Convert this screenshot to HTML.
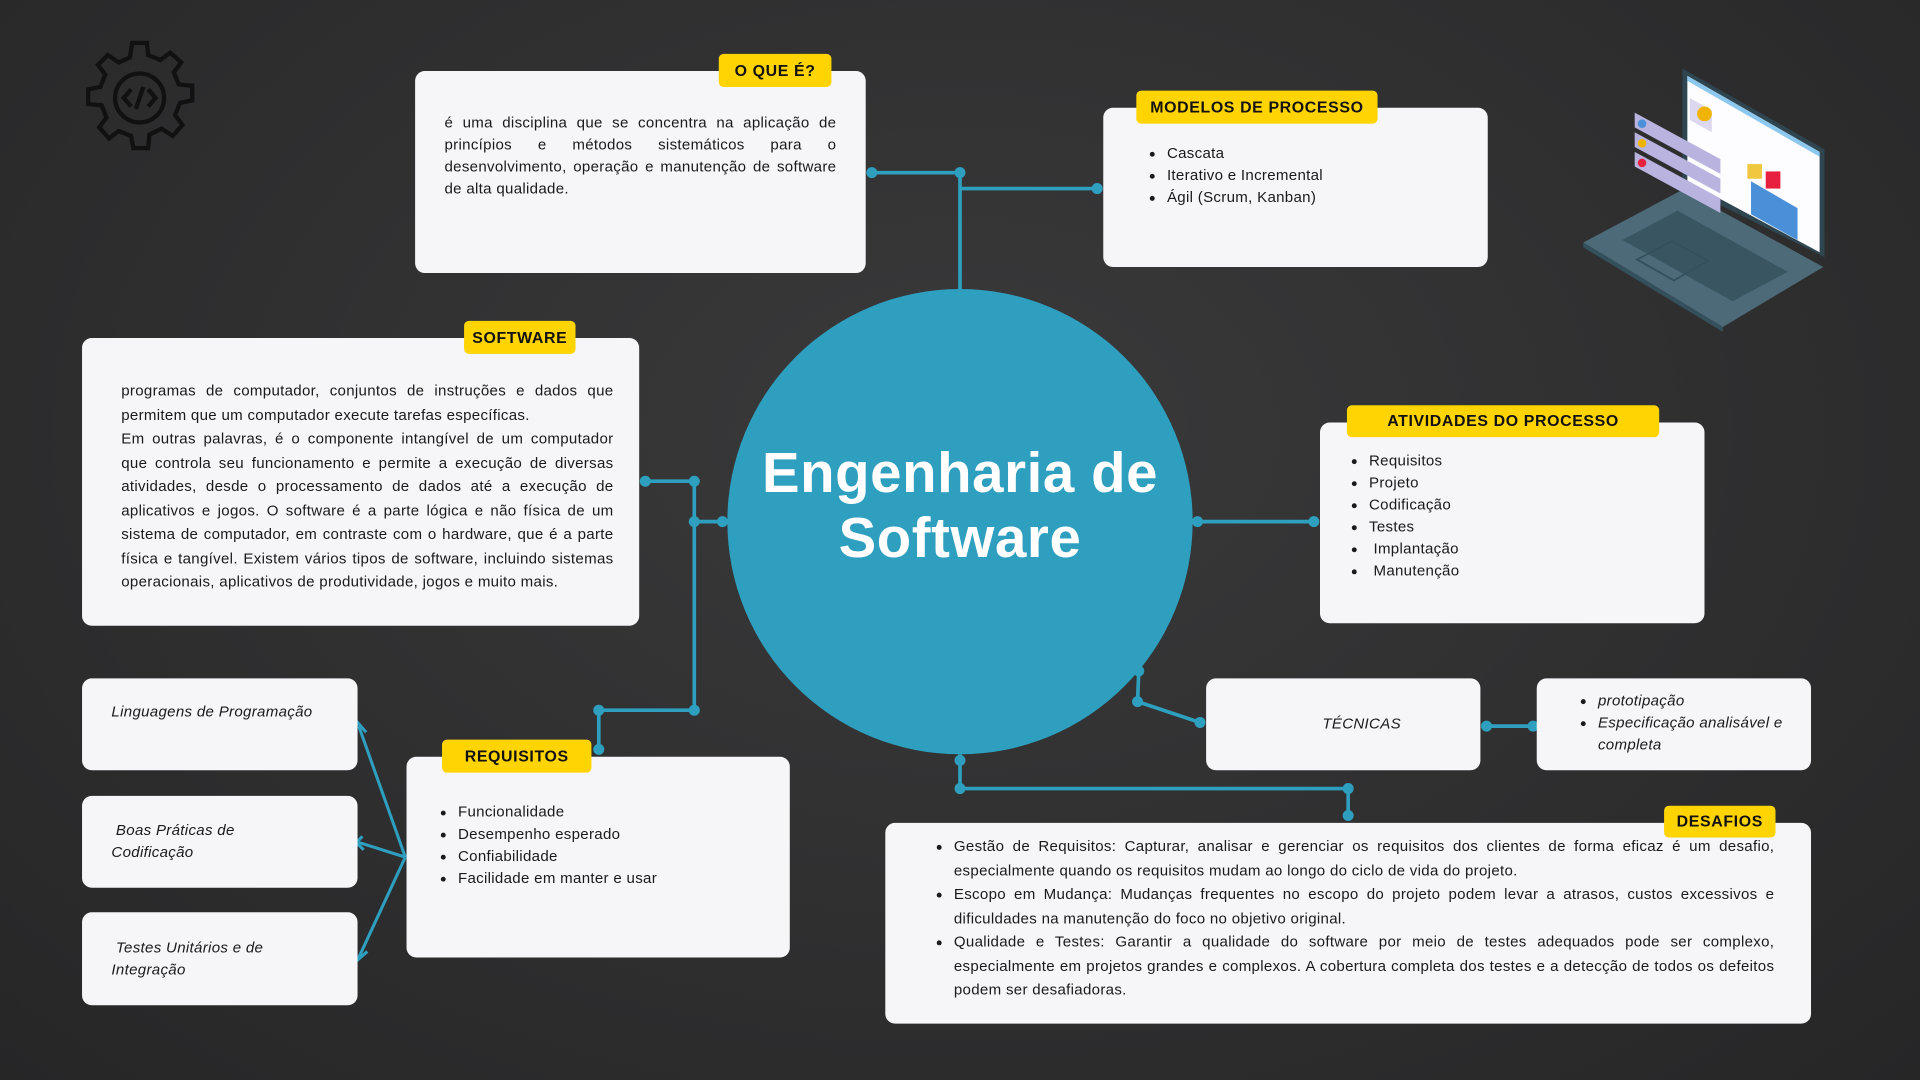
<!DOCTYPE html>
<html><head><meta charset="utf-8">
<style>
html,body{margin:0;padding:0;width:1920px;height:1080px;overflow:hidden;background:#2f2f30;}
#w{position:absolute;left:0;top:0;width:1568px;height:882px;transform:scale(1.22449);transform-origin:0 0;
background:radial-gradient(ellipse at 50% 40%,#3a3a3b 0%,#2f2f30 55%,#262627 100%);font-family:"Liberation Sans",sans-serif;}
.box{position:absolute;background:#f6f5f8;border-radius:8px;box-sizing:border-box;color:#1a1a1a;font-size:12.3px;letter-spacing:0.25px;}
.lab{position:absolute;background:#ffd400;border-radius:4px;font-weight:bold;font-size:13px;letter-spacing:.5px;color:#111;text-align:center;box-sizing:border-box;}
.just{text-align:justify;}
ul{margin:0;padding-left:16px;}
li{line-height:18px;}
.it{font-style:italic;}
</style></head><body><div id="w">
<svg width="1568" height="882" style="position:absolute;left:0;top:0">
<g transform="translate(114,81)" fill="none" stroke="#111" stroke-width="3.5">
<path d="M-6,-46 L6,-46 L7,-36 L17,-32 L25,-38 L34,-30 L28,-22 L32,-12 L43,-11 L43,1 L33,3 L29,13 L35,21 L27,30 L18,24 L8,29 L7,40 L-5,40 L-7,30 L-17,26 L-25,32 L-33,23 L-27,15 L-31,5 L-42,4 L-42,-8 L-32,-10 L-28,-20 L-34,-28 L-26,-36 L-17,-30 L-8,-34 Z"/>
<circle cx="0" cy="-1" r="20"/>
<path d="M-7,-8 L-13,-1 L-7,6 M7,-8 L13,-1 L7,6 M3,-10 L-3,8"/>
</g>
<polygon points="1293,198 1374,155 1489,218 1407,267" fill="#4d6a78"/>
<polygon points="1293,198 1407,267 1407,271 1293,202" fill="#34505c"/>
<polygon points="1325,196 1370,172 1460,222 1415,246" fill="#3a5562"/>
<polygon points="1374,56 1490,122 1490,210 1374,152" fill="#2f4550"/>
<polygon points="1378,62 1486,124 1486,206 1378,148" fill="#fdfdff"/>
<polygon points="1378,62 1486,124 1486,128 1378,66" fill="#8cc8ee"/>
<polygon points="1380,80 1398,90 1398,108 1380,98" fill="#dcd8f0"/>
<circle cx="1392" cy="93" r="6" fill="#f0b400"/>
<rect x="1427" y="134" width="12" height="12" fill="#f0c840"/>
<rect x="1442" y="140" width="12" height="14" fill="#e82040"/>
<polygon points="1430,148 1468,170 1468,196 1430,175" fill="#4a90d9"/>
<polygon points="1335,92 1405,130 1405,142 1335,104" fill="#b9b3e0"/>
<polygon points="1335,108 1405,146 1405,158 1335,120" fill="#b9b3e0"/>
<polygon points="1335,124 1405,162 1405,174 1335,136" fill="#b9b3e0"/>
<circle cx="1341" cy="101" r="3.5" fill="#4a90d9"/>
<circle cx="1341" cy="117" r="3.5" fill="#f0b400"/>
<circle cx="1341" cy="133" r="3.5" fill="#e82040"/>
<polygon points="1337,212 1365,197 1395,213 1367,229" fill="none" stroke="#34505c" stroke-width="1.5"/>
<g stroke="#2e9fbf" stroke-width="3" fill="none">
<path d="M712,141 H784 V237 M784,154 H896"/>
<path d="M527,393 H567 V580 M567,426 H590 M489,580 H567 M489,580 V612"/>
<path d="M978,426 H1073"/>
<path d="M930,548 L929,573 L980,590"/>
<path d="M1214,593 H1252"/>
<path d="M784,616 V644 H1101 V666"/>
</g>
<g fill="#2e9fbf">
<circle cx="712" cy="141" r="4.5"/><circle cx="784" cy="141" r="4.5"/><circle cx="896" cy="154" r="4.5"/>
<circle cx="527" cy="393" r="4.5"/><circle cx="567" cy="393" r="4.5"/><circle cx="567" cy="426" r="4.5"/><circle cx="590" cy="426" r="4.5"/>
<circle cx="567" cy="580" r="4.5"/><circle cx="489" cy="580" r="4.5"/><circle cx="489" cy="612" r="4.5"/>
<circle cx="978" cy="426" r="4.5"/><circle cx="1073" cy="426" r="4.5"/>
<circle cx="930" cy="548" r="4.5"/><circle cx="929" cy="573" r="4.5"/><circle cx="980" cy="590" r="4.5"/>
<circle cx="1214" cy="593" r="4.5"/><circle cx="1252" cy="593" r="4.5"/>
<circle cx="784" cy="621" r="4.5"/><circle cx="784" cy="644" r="4.5"/><circle cx="1101" cy="644" r="4.5"/><circle cx="1101" cy="666" r="4.5"/>
</g>
<circle cx="784" cy="426" r="190" fill="#2e9fbf"/>
<g stroke="#2e9fbf" stroke-width="2.5" fill="none">
<path d="M331,700 L293,593 M331,700 L293,688 M331,700 L293,782"/>
<path d="M288,600 L292,590 L299,598 M296,683 L291,688 L297,694 M288,773 L292,784 L300,777"/>
</g>
</svg>
<div style="position:absolute;left:584px;top:360px;width:400px;text-align:center;color:#fff;font-weight:bold;font-size:46px;line-height:53px;letter-spacing:0.5px;">Engenharia de<br>Software</div>

<div class="box" style="left:339px;top:58px;width:368px;height:165px;padding:33px 24px 0 24px;"><div class="just" style="line-height:18px;">é uma disciplina que se concentra na aplicação de princípios e métodos sistemáticos para o desenvolvimento, operação e manutenção de software de alta qualidade.</div></div>
<div class="lab" style="left:587px;top:44px;width:92px;height:27px;line-height:27px;">O QUE É?</div>

<div class="box" style="left:901px;top:88px;width:314px;height:130px;padding:28px 0 0 36px;"><ul><li>Cascata</li><li>Iterativo e Incremental</li><li>Ágil (Scrum, Kanban)</li></ul></div>
<div class="lab" style="left:928px;top:74px;width:197px;height:27px;line-height:27px;">MODELOS DE PROCESSO</div>

<div class="box" style="left:67px;top:276px;width:455px;height:235px;padding:34px 21px 0 32px;"><div class="just" style="line-height:19.5px;">programas de computador, conjuntos de instruções e dados que permitem que um computador execute tarefas específicas.<br>Em outras palavras, é o componente intangível de um computador que controla seu funcionamento e permite a execução de diversas atividades, desde o processamento de dados até a execução de aplicativos e jogos. O software é a parte lógica e não física de um sistema de computador, em contraste com o hardware, que é a parte física e tangível. Existem vários tipos de software, incluindo sistemas operacionais, aplicativos de produtividade, jogos e muito mais.</div></div>
<div class="lab" style="left:379px;top:262px;width:91px;height:27px;line-height:27px;">SOFTWARE</div>

<div class="box" style="left:1078px;top:345px;width:314px;height:164px;padding:22px 0 0 24px;"><ul><li>Requisitos</li><li>Projeto</li><li>Codificação</li><li>Testes</li><li>&nbsp;Implantação</li><li>&nbsp;Manutenção</li></ul></div>
<div class="lab" style="left:1100px;top:331px;width:255px;height:26px;line-height:26px;">ATIVIDADES DO PROCESSO</div>

<div class="box it" style="left:985px;top:554px;width:224px;height:75px;line-height:75px;text-align:center;padding-left:30px;">TÉCNICAS</div>
<div class="box it" style="left:1255px;top:554px;width:224px;height:75px;padding:9px 14px 0 34px;"><ul><li>prototipação</li><li>Especificação analisável e completa</li></ul></div>

<div class="box" style="left:723px;top:672px;width:756px;height:164px;padding:10px 30px 0 40px;"><ul class="just" style="line-height:19.5px;"><li style="line-height:19.5px;">Gestão de Requisitos: Capturar, analisar e gerenciar os requisitos dos clientes de forma eficaz é um desafio, especialmente quando os requisitos mudam ao longo do ciclo de vida do projeto.</li><li style="line-height:19.5px;">Escopo em Mudança: Mudanças frequentes no escopo do projeto podem levar a atrasos, custos excessivos e dificuldades na manutenção do foco no objetivo original.</li><li style="line-height:19.5px;">Qualidade e Testes: Garantir a qualidade do software por meio de testes adequados pode ser complexo, especialmente em projetos grandes e complexos. A cobertura completa dos testes e a detecção de todos os defeitos podem ser desafiadoras.</li></ul></div>
<div class="lab" style="left:1359px;top:658px;width:91px;height:26px;line-height:26px;">DESAFIOS</div>

<div class="box" style="left:332px;top:618px;width:313px;height:164px;padding:36px 0 0 26px;"><ul><li>Funcionalidade</li><li>Desempenho esperado</li><li>Confiabilidade</li><li>Facilidade em manter e usar</li></ul></div>
<div class="lab" style="left:361px;top:604px;width:122px;height:27px;line-height:27px;">REQUISITOS</div>

<div class="box it" style="left:67px;top:554px;width:225px;height:75px;padding:20px 0 0 24px;">Linguagens de Programação</div>
<div class="box it" style="left:67px;top:650px;width:225px;height:75px;padding:19px 0 0 24px;line-height:18px;">&nbsp;Boas Práticas de<br>Codificação</div>
<div class="box it" style="left:67px;top:745px;width:225px;height:76px;padding:20px 0 0 24px;line-height:18px;">&nbsp;Testes Unitários e de<br>Integração</div>
</div></body></html>
